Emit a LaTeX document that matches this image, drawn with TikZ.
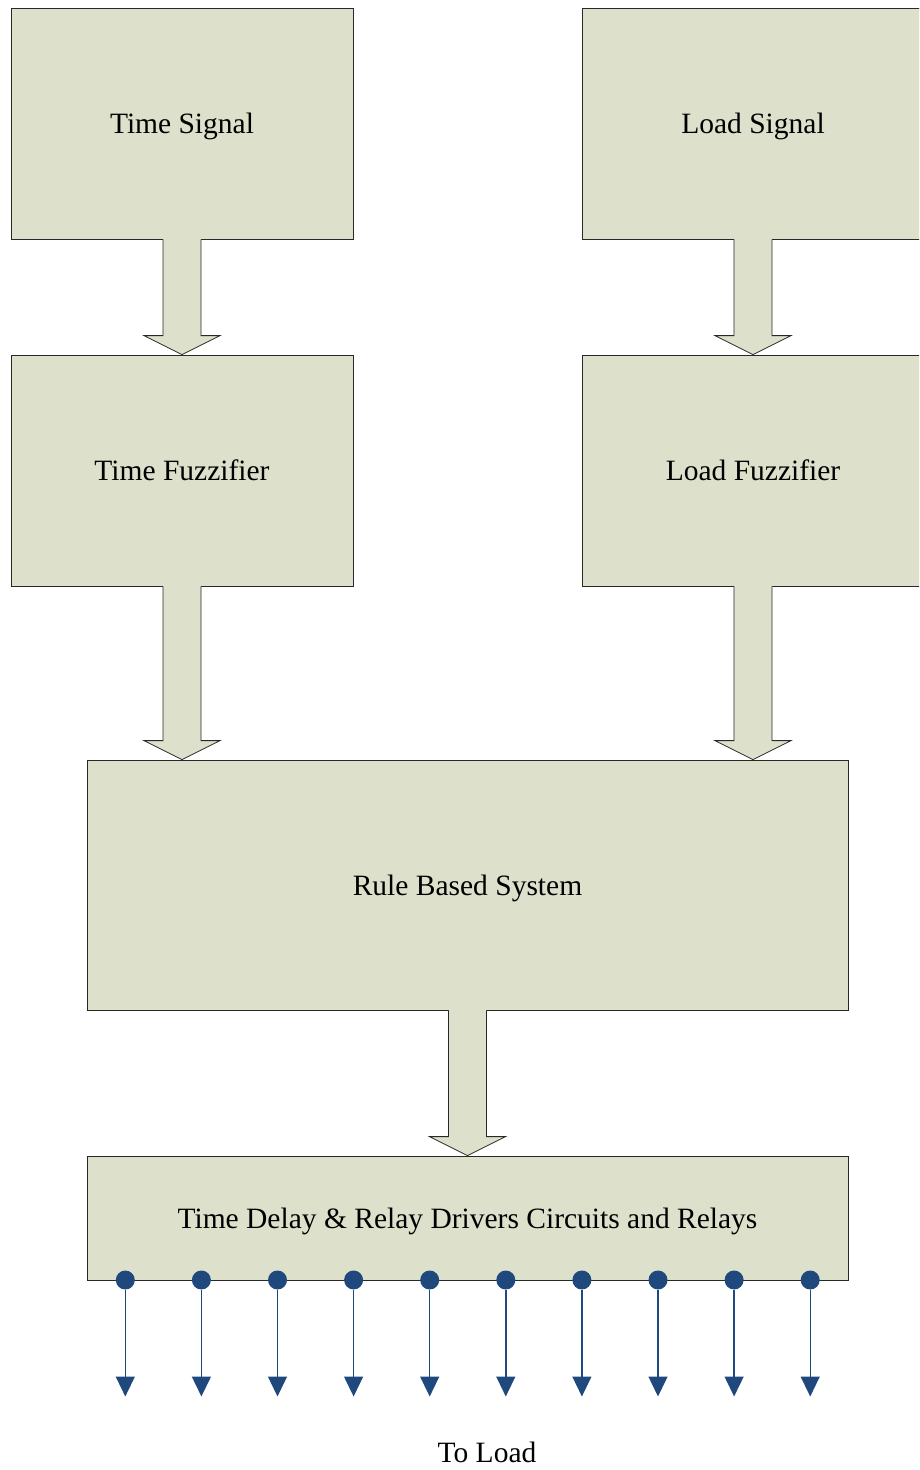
\documentclass[tikz,border=0pt]{standalone}
\usepackage{fontspec}
\setmainfont{Liberation Serif}
\usetikzlibrary{calc,arrows.meta}
\definecolor{boxfill}{RGB}{221,224,203}
\definecolor{dotblue}{RGB}{31,73,125}
\definecolor{edgegray}{RGB}{40,40,40}
\newcommand\blockarr[2]{%
  \coordinate (ba-s) at (#1.south);
  \coordinate (ba-t) at (#1.south |- #2.north);
  \fill[boxfill] ($(ba-s)+(-19,-1)$) -- ($(ba-t)+(-19,-19)$) -- ($(ba-t)+(-38,-19)$) -- (ba-t)
     -- ($(ba-t)+(38,-19)$) -- ($(ba-t)+(19,-19)$) -- ($(ba-s)+(19,-1)$) -- cycle;
  \draw[arrowedge] ($(ba-s)+(-19,0)$) -- ($(ba-t)+(-19,-19)$) -- ($(ba-t)+(-38,-19)$) -- (ba-t)
     -- ($(ba-t)+(38,-19)$) -- ($(ba-t)+(19,-19)$) -- ($(ba-s)+(19,0)$);
}
\begin{document}
\begin{tikzpicture}[x=1pt,y=-1pt,
  blk/.style={draw=edgegray, line width=0.8pt, fill=boxfill, inner sep=0pt,
    text depth=0pt, font=\fontsize{29.5}{34}\selectfont},
  arrowedge/.style={draw=edgegray, line width=0.8pt, line join=miter},
  dotnode/.style={circle, fill=dotblue, minimum size=19pt, inner sep=0pt},
  tipline/.style={draw=dotblue, line width=1.4pt, -{Triangle[width=19pt,length=20pt]}},
  lbl/.style={font=\fontsize{29.5}{34}\selectfont, inner sep=0pt}]
\useasboundingbox (0,0) rectangle (919,1470);
\clip (0,0) rectangle (919,1470);
\node[blk, minimum width=342pt, minimum height=231pt] (ts) at (182,123.5) {Time Signal};
\node[blk, minimum width=342pt, minimum height=231pt] (ls) at (753,123.5) {Load Signal};
\node[blk, minimum width=342pt, minimum height=231pt] (tf) at (182,470.5) {Time Fuzzifier};
\node[blk, minimum width=342pt, minimum height=231pt] (lf) at (753,470.5) {Load Fuzzifier};
\node[blk, minimum width=761pt, minimum height=250pt] (rb) at (467.5,885) {Rule Based System};
\node[blk, minimum width=761pt, minimum height=124pt] (td) at (467.5,1218) {Time Delay \& Relay Drivers Circuits and Relays};
\blockarr{ts}{tf}
\blockarr{ls}{lf}
\blockarr{tf}{rb}
\blockarr{lf}{rb}
\blockarr{rb}{td}
\foreach \i in {1,...,10} {
  \pgfmathsetmacro\xx{125.3+76.1*(\i-1)}
  \node[dotnode] (d\i) at (\xx,1280) {};
  \coordinate (e\i) at (\xx,1396.5);
  \draw[tipline] (d\i) -- (e\i);
}
\node[lbl] (toload) at (487,1452) {To Load};
\end{tikzpicture}
\end{document}
